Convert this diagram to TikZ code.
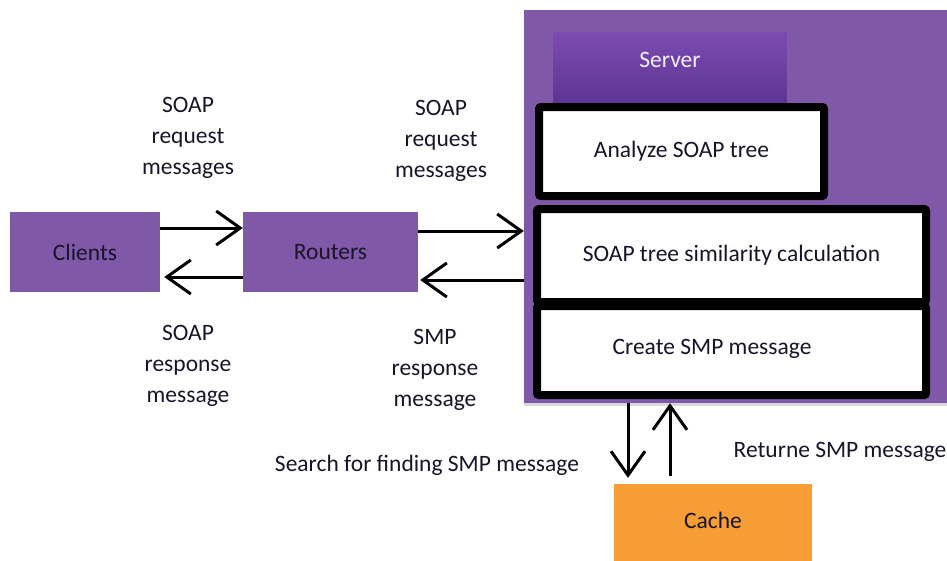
\documentclass[tikz,border=0pt]{standalone}
\usepackage{fontspec}
\setmainfont{Carlito}
\usetikzlibrary{arrows.meta,shadows}
\definecolor{purp}{RGB}{127,89,168}
\definecolor{hdrtop}{RGB}{125,75,178}
\definecolor{hdrbot}{RGB}{92,54,146}
\definecolor{orng}{RGB}{247,157,54}
\definecolor{txt}{RGB}{25,20,40}
\begin{document}
\begin{tikzpicture}[x=1pt,y=-1pt,
  every node/.style={font=\fontsize{23.5}{31}\selectfont, inner sep=0pt, text=txt},
  pbox/.style={fill=purp, minimum width=#1, minimum height=80pt},
  stagebox/.style={draw=black, line width=8pt, fill=white, rounded corners=2pt, minimum width=389pt, minimum height=#1},
  arr/.style={line width=3pt, -{Straight Barb[length=24pt,width=34pt,line width=3pt]}},
  lbl/.style={align=center}]
\useasboundingbox (0,0) rectangle (947,560);
% server background
\node[fill=purp, minimum width=426pt, minimum height=393pt, drop shadow={opacity=0.3,shadow xshift=0pt,shadow yshift=-3pt}] (server) at (737,206.5) {};
\node[top color=hdrtop, bottom color=hdrbot, minimum width=234pt, minimum height=70pt, drop shadow={opacity=0.3,shadow xshift=1pt,shadow yshift=-2pt}] (hdr) at (670,67) {};
\node[text=white!90!purp] at (670,60) {Server};
\node[draw=black, line width=8pt, fill=white, rounded corners=2pt, minimum width=285pt, minimum height=89pt] (analyze) at (681.5,151.5) {Analyze SOAP tree};
\node[stagebox=93pt] (sim) at (731.5,255.5) {SOAP tree similarity calculation};
\node[stagebox=89pt] (create) at (731.5,350.5) {};
\node at ([xshift=-19.5pt,yshift=2pt]create.center) {Create SMP message};
% left boxes
\node[pbox=150pt] (clients) at (85,252) {Clients};
\node[pbox=175pt] (routers) at (330.5,252) {Routers};
% cache
\node[fill=orng, minimum width=198pt, minimum height=82pt] (cache) at (713,525) {};
\node at (713,520) {Cache};
% connectors
\coordinate (c1) at ([yshift=24pt]clients.east);
\coordinate (c2) at ([yshift=-25pt]clients.east);
\draw[arr] (c1) -- (c1 -| routers.west);
\draw[arr] (c2 -| routers.west) -- ([xshift=4pt]c2);
\coordinate (r1) at ([yshift=21pt]routers.east);
\coordinate (r2) at ([yshift=-28pt]routers.east);
\draw[arr] (r1) -- (r1 -| server.west);
\draw[arr] (r2 -| server.west) -- ([xshift=2pt]r2);
\coordinate (d1) at (628,0);
\coordinate (d2) at (670,0);
\draw[arr, shorten >=6pt] (d1 |- server.south) -- (d1 |- cache.north);
\draw[arr, shorten <=8pt] (d2 |- cache.north) -- (d2 |- server.south);
% labels
\node[lbl] at (188,138) {SOAP\\request\\messages};
\node[lbl] at (441,141) {SOAP\\request\\messages};
\node[lbl] at (188,366) {SOAP\\response\\message};
\node[lbl] at (435,370) {SMP\\response\\message};
\node at (427,465) {Search for finding SMP message};
\node at (840,452) {Returne SMP message};
\end{tikzpicture}
\end{document}
